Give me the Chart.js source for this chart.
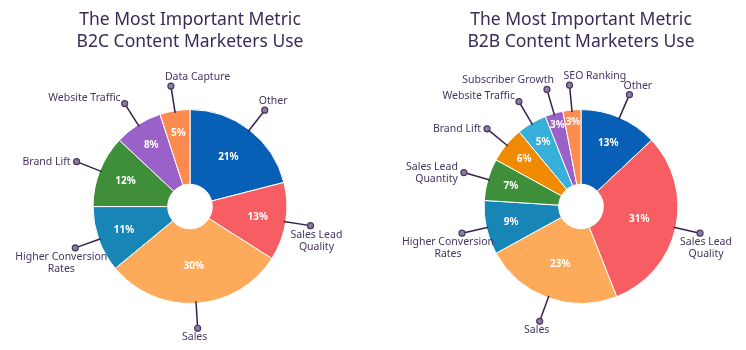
<!DOCTYPE html>
<html>
<head>
<meta charset="utf-8">
<script src="https://cdn.jsdelivr.net/npm/chart.js@4"></script>
<style>
  html, body { margin: 0; padding: 0; background: #fff; overflow: hidden; }
  .wrap { position: relative; width: 746px; height: 350px; overflow: hidden; }
  #b2cChart { position: absolute; left: 0; top: 0; }
  #b2bChart { position: absolute; left: 381px; top: 0; }
</style>
</head>
<body>
<div class="wrap">
  <canvas id="b2cChart" width="380" height="350"></canvas>
  <canvas id="b2bChart" width="400" height="350"></canvas>
</div>
<script>
// B2C data, clockwise from the top
const b2cLabels = ['Other', ['Sales Lead', 'Quality'], 'Sales', ['Higher Conversion', 'Rates'], 'Brand Lift', 'Website Traffic', 'Data Capture'];
const b2cValues = [21, 13, 30, 11, 12, 8, 5];
const b2cColors = ['#0860b6', '#f65e63', '#fdaa5b', '#1786b7', '#3f8e39', '#9a62c9', '#fd8a4e'];

// B2B data, clockwise from the top
const b2bLabels = ['Other', ['Sales Lead', 'Quality'], 'Sales', ['Higher Conversion', 'Rates'], ['Sales Lead', 'Quantity'], 'Brand Lift', 'Website Traffic', 'Subscriber Growth', 'SEO Ranking'];
const b2bValues = [13, 31, 23, 9, 7, 6, 5, 3, 3];
const b2bColors = ['#0860b6', '#f65e63', '#fdaa5b', '#1786b7', '#3f8e39', '#f08a00', '#36b0d9', '#9a62c9', '#fd8a4e'];

const textColor = '#453560';
const titleColor = '#3b2a58';
const fontFamily = '"Noto Sans", "Open Sans", sans-serif';

// Draws the % inside each slice and the callout label with a leader line + dot
const calloutPlugin = {
  id: 'callouts',
  afterDatasetsDraw(chart) {
    const ctx = chart.ctx;
    const meta = chart.getDatasetMeta(0);
    const values = chart.data.datasets[0].data;
    const labels = chart.data.labels;

    meta.data.forEach((arc, i) => {
      const p = arc.getProps(['x', 'y', 'startAngle', 'endAngle', 'outerRadius', 'innerRadius'], true);
      const mid = (p.startAngle + p.endAngle) / 2;
      const cos = Math.cos(mid), sin = Math.sin(mid);

      // percentage inside the slice, pushed outwards for thin slices
      const frac = (p.endAngle - p.startAngle) / (Math.PI * 2);
      const f = frac < 0.04 ? 0.84 : Math.max(0.5, 0.75 - frac);
      const rIn = p.innerRadius + (p.outerRadius - p.innerRadius) * f;
      ctx.save();
      ctx.fillStyle = '#ffffff';
      ctx.font = 'bold 10px ' + fontFamily;
      ctx.textAlign = 'center';
      ctx.textBaseline = 'middle';
      ctx.fillText(values[i] + '%', p.x + cos * rIn, p.y + sin * rIn);

      // leader line
      const x0 = p.x + cos * (p.outerRadius - 2);
      const y0 = p.y + sin * (p.outerRadius - 2);
      const x1 = p.x + cos * (p.outerRadius + 25);
      const y1 = p.y + sin * (p.outerRadius + 25);
      ctx.strokeStyle = '#35204d';
      ctx.lineWidth = 1.5;
      ctx.beginPath();
      ctx.moveTo(x0, y0);
      ctx.lineTo(x1, y1);
      ctx.stroke();

      // dot
      ctx.beginPath();
      ctx.arc(x1, y1, 3, 0, Math.PI * 2);
      ctx.fillStyle = '#8c7c9e';
      ctx.fill();
      ctx.lineWidth = 1.2;
      ctx.strokeStyle = '#4a3563';
      ctx.stroke();

      // label text, placed by angle (degrees clockwise from the top)
      let deg = (mid * 180 / Math.PI + 90) % 360;
      if (deg < 0) deg += 360;
      const lines = Array.isArray(labels[i]) ? labels[i] : [labels[i]];
      const lh = 12;
      ctx.fillStyle = textColor;
      ctx.font = '10.5px ' + fontFamily;
      ctx.textBaseline = 'middle';
      let tx, ty;
      if (deg < 60 || deg >= 348) {
        ctx.textAlign = 'left';
        tx = x1 - 6;
        ty = y1 - 9 - (lines.length - 1) * lh;
      } else if (deg < 270) {
        ctx.textAlign = 'center';
        tx = x1 + (deg < 140 ? 6 : (deg > 230 ? -14 : -3));
        ty = y1 + 9;
      } else if (deg < 320) {
        ctx.textAlign = 'right';
        tx = x1 - 6;
        ty = y1 - (lines.length - 1) * lh / 2;
      } else if (deg < 338) {
        ctx.textAlign = 'right';
        tx = x1 - 4;
        ty = y1 - 6;
      } else {
        ctx.textAlign = 'right';
        tx = x1 + 7;
        ty = y1 - 9;
      }
      lines.forEach((ln, k) => ctx.fillText(ln, tx, ty + k * lh));
      ctx.restore();
    });
  }
};

function initMetricChart(ident, title, labels, values, colors) {
  const chartConfig = {
    type: 'doughnut',
    data: {
      labels: labels,
      datasets: [
        {
          data: values,
          backgroundColor: colors,
          borderColor: '#ffffff',
          borderWidth: 1,
          hoverOffset: 0,
        },
      ]
    },
    options: {
      responsive: false,
      animation: false,
      cutout: '23%',
      layout: {
        padding: { left: 0, right: 0, top: 0, bottom: 46 },
      },
      plugins: {
        legend: { display: false },
        tooltip: { enabled: false },
        title: {
          display: true,
          text: title,
          color: titleColor,
          font: { size: 17.5, weight: 'normal', family: fontFamily, lineHeight: 1.26 },
          padding: { top: 9, bottom: 56 },
        },
      }
    },
    plugins: [calloutPlugin],
  };

  return new Chart(document.getElementById(ident), chartConfig);
}

initMetricChart('b2cChart', ['The Most Important Metric', 'B2C Content Marketers Use'], b2cLabels, b2cValues, b2cColors);
initMetricChart('b2bChart', ['The Most Important Metric', 'B2B Content Marketers Use'], b2bLabels, b2bValues, b2bColors);
</script>
</body>
</html>
